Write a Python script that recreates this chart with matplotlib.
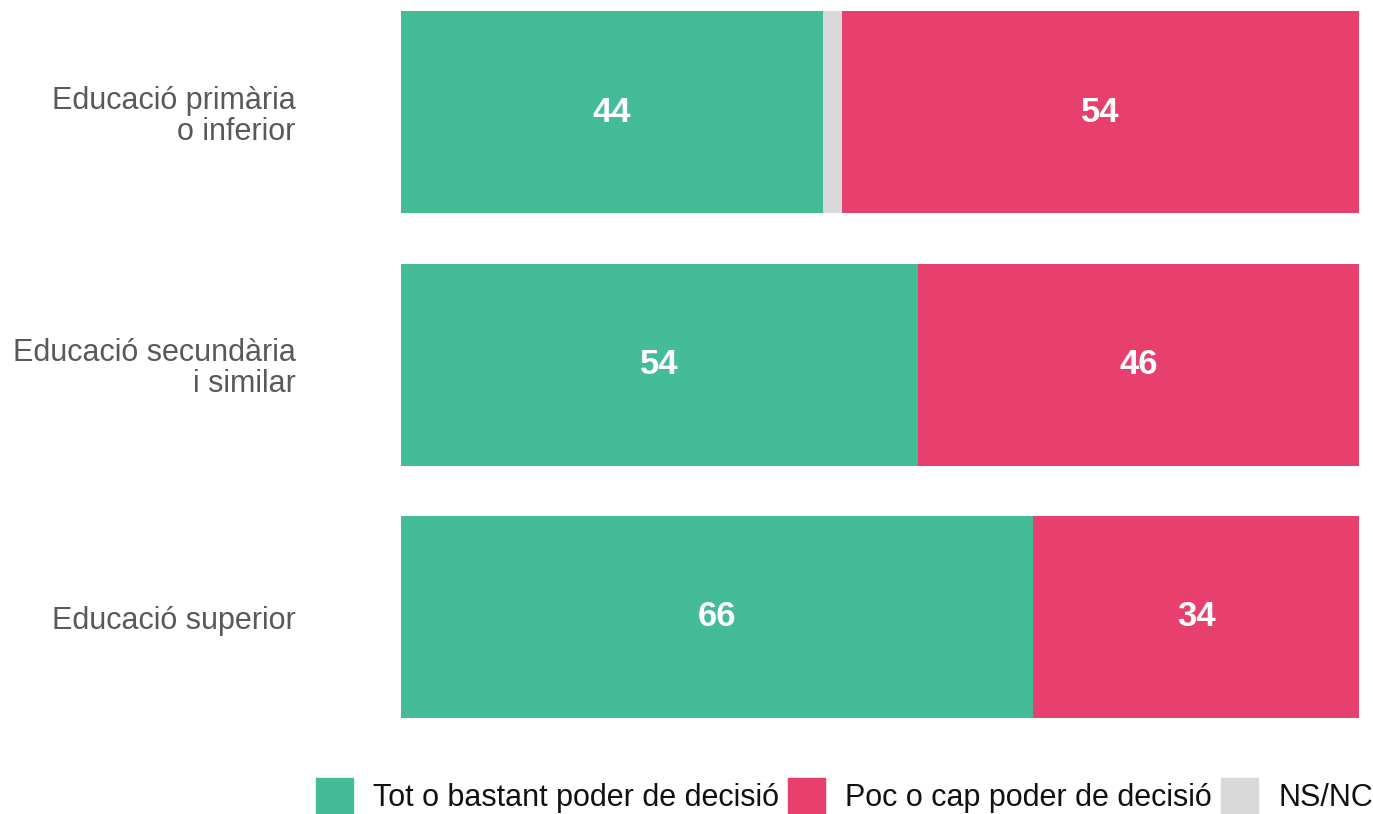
import matplotlib
matplotlib.use("Agg")
import matplotlib.pyplot as plt
import matplotlib.patches as mpatches
import numpy as np

# ── data ────────────────────────────────────────────────────────────────────
categories = ["Educació primària\no inferior",
              "Educació secundària\ni similar",
              "Educació superior"]
series_names = ["Tot o bastant poder de decisió",
                "Poc o cap poder de decisió",
                "NS/NC"]
tot   = [44, 54, 66]
poc   = [54, 46, 34]
nsnc  = [2, 0, 0]

# ── colours ─────────────────────────────────────────────────────────────────
C_TOT  = "#45BC98"
C_POC  = "#E8406E"
C_NS   = "#D9D9D9"
C_TEXT = "#595959"

plt.rcParams["font.family"] = ["Liberation Sans", "DejaVu Sans"]

fig = plt.figure(figsize=(13.73, 8.14), dpi=100)
ax = fig.add_axes([401 / 1373, 1 - 718 / 814, 958 / 1373, 707 / 814])

y = np.arange(len(categories))
h = 0.8
tot_a = np.array(tot)
ns_a = np.array(nsnc)
ax.barh(y, tot_a, height=h, color=C_TOT)
ax.barh(y, ns_a, left=tot_a, height=h, color=C_NS)
ax.barh(y, poc, left=tot_a + ns_a, height=h, color=C_POC)

for i in range(len(categories)):
    ax.text(tot[i] / 2, y[i], f"{tot[i]}", ha="center", va="center",
            color="white", fontsize=25, fontweight="bold")
    ax.text(tot[i] + nsnc[i] + poc[i] / 2, y[i], f"{poc[i]}", ha="center",
            va="center", color="white", fontsize=25, fontweight="bold")

ax.set_xlim(0, 100)
ax.set_ylim(2.4, -0.4)
ax.set_yticks(y)
ax.set_yticklabels(categories, fontsize=22, color=C_TEXT, ha="right",
                   linespacing=1.05)
ax.tick_params(axis="y", length=0, pad=76)
ax.set_xticks([])
for spine in ax.spines.values():
    spine.set_visible(False)

handles = [mpatches.Patch(color=c, label=l)
           for c, l in zip([C_TOT, C_POC, C_NS], series_names)]
fig.legend(handles=handles, loc="lower right", ncol=3,
           bbox_to_anchor=(1.011, -0.019), frameon=False, borderpad=0,
           fontsize=22, handlelength=1.21, handleheight=1.45,
           handletextpad=0.66, columnspacing=0.3, labelcolor="#111111")

fig.savefig("out.png", dpi=100)
